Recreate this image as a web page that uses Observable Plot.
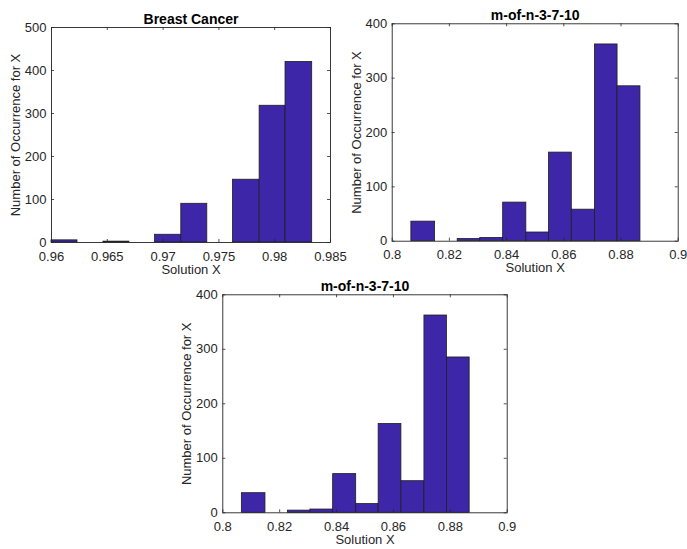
<!DOCTYPE html>
<html><head><meta charset="utf-8">
<script src="https://cdn.jsdelivr.net/npm/d3@7"></script>
<script src="https://cdn.jsdelivr.net/npm/@observablehq/plot@0.6"></script>
<style>
body{margin:0;background:#fff;}
#wrap{position:relative;width:687px;height:549px;background:#fff;font-family:"Liberation Sans",Arial,Helvetica,sans-serif;}
#wrap svg{position:absolute;overflow:visible;}
</style></head><body><div id="wrap"></div>
<script>
// Breast Cancer histogram
const bcTitle = "Breast Cancer";
const bcEdges = [0.9600, 0.96233, 0.96465, 0.96698, 0.96928, 0.97163, 0.97396, 0.97626, 0.97865, 0.98097, 0.98336];
const bcCounts = [5, 0, 2, 0, 18, 90, 0, 146, 318, 420];
const bcXTicks = [0.96, 0.965, 0.97, 0.975, 0.98, 0.985];
const bcYTicks = [0, 100, 200, 300, 400, 500];

// m-of-n-3-7-10 histogram
const mnTitle = "m-of-n-3-7-10";
const mnEdges = [0.8067, 0.8150, 0.8229, 0.8308, 0.8388, 0.8469, 0.8548, 0.8628, 0.8709, 0.8788, 0.8868];
const mnCounts = [36, 0, 4, 6, 71, 16, 163, 58, 362, 285];
const mnXTicks = [0.8, 0.82, 0.84, 0.86, 0.88, 0.9];
const mnYTicks = [0, 100, 200, 300, 400];

const xLabel = "Solution X";
const yLabel = "Number of Occurrence for X";

const FONT = '"Liberation Sans", Arial, Helvetica, sans-serif';
const TXT = "#262626";

function histPanel(p) {
  const bins = p.counts.map((c, i) => ({x1: p.edges[i], x2: p.edges[i + 1], y: c}));
  const ph = p.height - p.mT - p.mB, pw = p.width - p.mL - p.mR;
  const tl = 3;
  const fmt = d => String(d);
  const svg = Plot.plot({
    width: p.width, height: p.height,
    marginLeft: p.mL, marginRight: p.mR, marginTop: p.mT, marginBottom: p.mB,
    style: {fontFamily: FONT, fontSize: "13px", color: TXT, background: "transparent", overflow: "visible"},
    x: {domain: p.xDomain},
    y: {domain: p.yDomain},
    marks: [
      Plot.rect(bins, {x1: "x1", x2: "x2", y1: 0, y2: "y", fill: "#3e26a8", stroke: "#1e1e1e", strokeWidth: 0.8}),
      Plot.frame({stroke: TXT, strokeWidth: 0.9}),
      Plot.ruleX(p.xTicks, {x: d => d, insetTop: ph - tl, stroke: TXT, strokeWidth: 0.8}),
      Plot.ruleX(p.xTicks, {x: d => d, insetBottom: ph - tl, stroke: TXT, strokeWidth: 0.8}),
      Plot.ruleY(p.yTicks, {y: d => d, insetRight: pw - tl, stroke: TXT, strokeWidth: 0.8}),
      Plot.ruleY(p.yTicks, {y: d => d, insetLeft: pw - tl, stroke: TXT, strokeWidth: 0.8}),
      Plot.axisX(p.xTicks, {tickSize: 0, tickPadding: 9, tickFormat: fmt, label: null, fill: TXT, fontSize: 13}),
      Plot.axisY(p.yTicks, {tickSize: 0, tickPadding: 5, tickFormat: fmt, label: null, fill: TXT, fontSize: 13}),
      Plot.text([p.title], {text: d => d, frameAnchor: "top", dy: -4, lineAnchor: "bottom", fontWeight: "bold", fontSize: 14, fill: "#000"}),
      Plot.text([xLabel], {text: d => d, frameAnchor: "bottom", dy: 31, lineAnchor: "bottom", fontSize: 13, fill: TXT}),
      Plot.text([yLabel], {text: d => d, frameAnchor: "left", dx: p.yLabDx, rotate: -90, textAnchor: "middle", lineAnchor: "middle", fontSize: 13, fill: TXT})
    ]
  });
  svg.style.left = p.left + "px";
  svg.style.top = p.top + "px";
  document.getElementById("wrap").appendChild(svg);
}

histPanel({title: bcTitle, edges: bcEdges, counts: bcCounts, xDomain: [0.96, 0.985], xTicks: bcXTicks, yDomain: [0, 500], yTicks: bcYTicks,
  left: 0, top: 0, width: 345, height: 280, mL: 51, mR: 15, mT: 27, mB: 38, yLabDx: -36});
histPanel({title: mnTitle, edges: mnEdges, counts: mnCounts, xDomain: [0.8, 0.9], xTicks: mnXTicks, yDomain: [0, 400], yTicks: mnYTicks,
  left: 345, top: 0, width: 342, height: 280, mL: 46.7, mR: 9.3, mT: 23.3, mB: 39.3, yLabDx: -35});
histPanel({title: mnTitle, edges: mnEdges, counts: mnCounts, xDomain: [0.8, 0.9], xTicks: mnXTicks, yDomain: [0, 400], yTicks: mnYTicks,
  left: 170, top: 275, width: 360, height: 274, mL: 52.3, mR: 23.3, mT: 19.3, mB: 36.7, yLabDx: -35.6});
</script>
</body></html>
